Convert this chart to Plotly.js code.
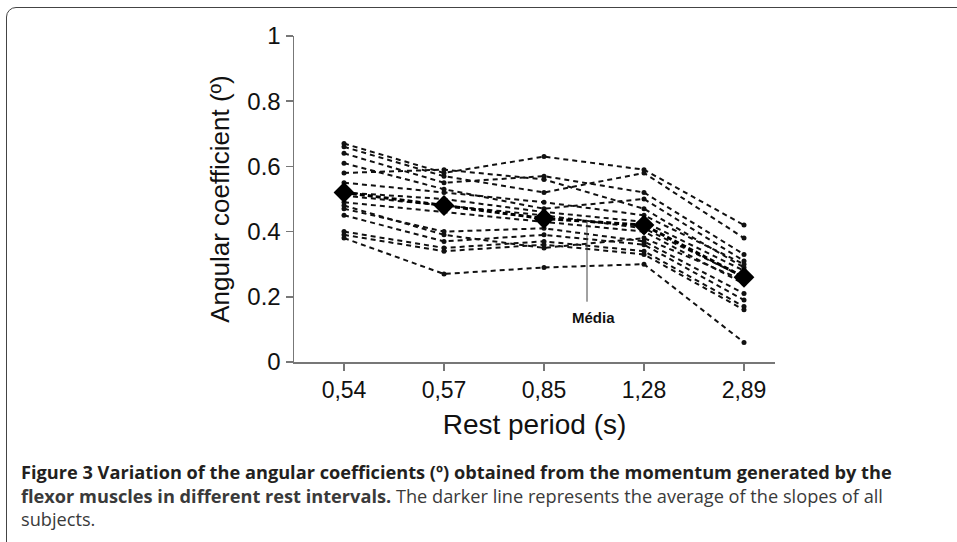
<!DOCTYPE html>
<html>
<head>
<meta charset="utf-8">
<script src="https://cdn.plot.ly/plotly-3.0.1.min.js"></script>
<style>
html,body{margin:0;padding:0;background:#fff;overflow:hidden;}
#wrap{position:relative;width:957px;height:542px;}
#chart{position:absolute;left:0;top:0;width:957px;height:542px;}
#frame{position:absolute;left:6px;top:7px;width:980px;height:560px;border:1.5px solid #444;border-radius:10px;pointer-events:none;}
</style>
</head>
<body>
<div id="wrap"><div id="chart"></div><div id="frame"></div></div>
<script>
const categories = ["0,54", "0,57", "0,85", "1,28", "2,89"];
const subjects = [
  [0.67, 0.58, 0.63, 0.59, 0.42],
  [0.66, 0.57, 0.52, 0.58, 0.38],
  [0.64, 0.55, 0.57, 0.52, 0.33],
  [0.61, 0.53, 0.47, 0.50, 0.31],
  [0.58, 0.59, 0.56, 0.47, 0.29],
  [0.55, 0.52, 0.49, 0.45, 0.30],
  [0.52, 0.50, 0.46, 0.43, 0.28],
  [0.51, 0.48, 0.45, 0.41, 0.26],
  [0.49, 0.46, 0.43, 0.40, 0.24],
  [0.48, 0.39, 0.35, 0.38, 0.25],
  [0.47, 0.40, 0.41, 0.37, 0.21],
  [0.45, 0.37, 0.39, 0.36, 0.19],
  [0.40, 0.35, 0.37, 0.34, 0.17],
  [0.39, 0.34, 0.36, 0.33, 0.16],
  [0.38, 0.27, 0.29, 0.30, 0.06]
];
const meanValues = [0.52, 0.48, 0.44, 0.42, 0.26];
const yTicks = [0, 0.2, 0.4, 0.6, 0.8, 1];
const yTickText = ["0", "0.2", "0.4", "0.6", "0.8", "1"];

const traces = subjects.map(s => ({
  x: categories, y: s, type: 'scatter', mode: 'lines+markers',
  line: {color: '#111', width: 2, dash: '5px,4px'},
  marker: {color: '#111', size: 5, symbol: 'circle'},
  showlegend: false, hoverinfo: 'skip'
}));
traces.push({
  x: categories, y: meanValues, type: 'scatter', mode: 'lines+markers',
  line: {color: '#000', width: 3, dash: '5px,3px'},
  marker: {color: '#000', size: 16, symbol: 'diamond'},
  showlegend: false
});

const cap = {family: '"Open Sans", sans-serif', size: 18.2, color: '#3a3a3a'};
const layout = {
  width: 957, height: 542,
  margin: {l: 294, r: 182, t: 36, b: 180},
  paper_bgcolor: '#fff', plot_bgcolor: '#fff',
  font: {family: 'Arial, "Liberation Sans", sans-serif', color: '#111'},
  xaxis: {
    type: 'category', range: [-0.5, 4.31],
    showline: true, linecolor: '#777', linewidth: 1.5,
    ticks: 'outside', ticklen: 7, tickcolor: '#777', tickwidth: 1.5,
    showgrid: false, zeroline: false,
    tickfont: {size: 23, color: '#111'},
    title: {text: 'Rest period (s)', font: {size: 28, color: '#111'}, standoff: 12}
  },
  yaxis: {
    range: [0, 1], tickvals: yTicks, ticktext: yTickText,
    showline: true, linecolor: '#777', linewidth: 1.5,
    ticks: 'outside', ticklen: 7, tickcolor: '#777', tickwidth: 1.5,
    showgrid: false, zeroline: false,
    tickfont: {size: 24, color: '#111'},
    title: {text: 'Angular coefficient (º)', font: {size: 26, color: '#111'}, standoff: 10}
  },
  shapes: [
    {type: 'line', xref: 'x', yref: 'y', x0: 2.43, x1: 2.43, y0: 0.435, y1: 0.185,
     line: {color: '#444', width: 1}}
  ],
  annotations: [
    {xref: 'x', yref: 'y', x: 2.49, y: 0.135, text: '<b>Média</b>', showarrow: false,
     font: {size: 15, color: '#111', family: 'Arial, sans-serif'}},
    {xref: 'paper', yref: 'paper', x: -0.571, y: -0.337, xanchor: 'left', yanchor: 'middle',
     text: '<b>Figure 3 Variation of the angular coefficients (º) obtained from the momentum generated by the</b>',
     showarrow: false, font: Object.assign({}, cap, {color: '#231f20'})},
    {xref: 'paper', yref: 'paper', x: -0.571, y: -0.411, xanchor: 'left', yanchor: 'middle',
     text: '<b>flexor muscles in different rest intervals.</b> The darker line represents the average of the slopes of all',
     showarrow: false, font: cap},
    {xref: 'paper', yref: 'paper', x: -0.571, y: -0.482, xanchor: 'left', yanchor: 'middle',
     text: 'subjects.', showarrow: false, font: cap}
  ]
};
Plotly.newPlot('chart', traces, layout, {displayModeBar: false, staticPlot: true});
</script>
</body>
</html>
